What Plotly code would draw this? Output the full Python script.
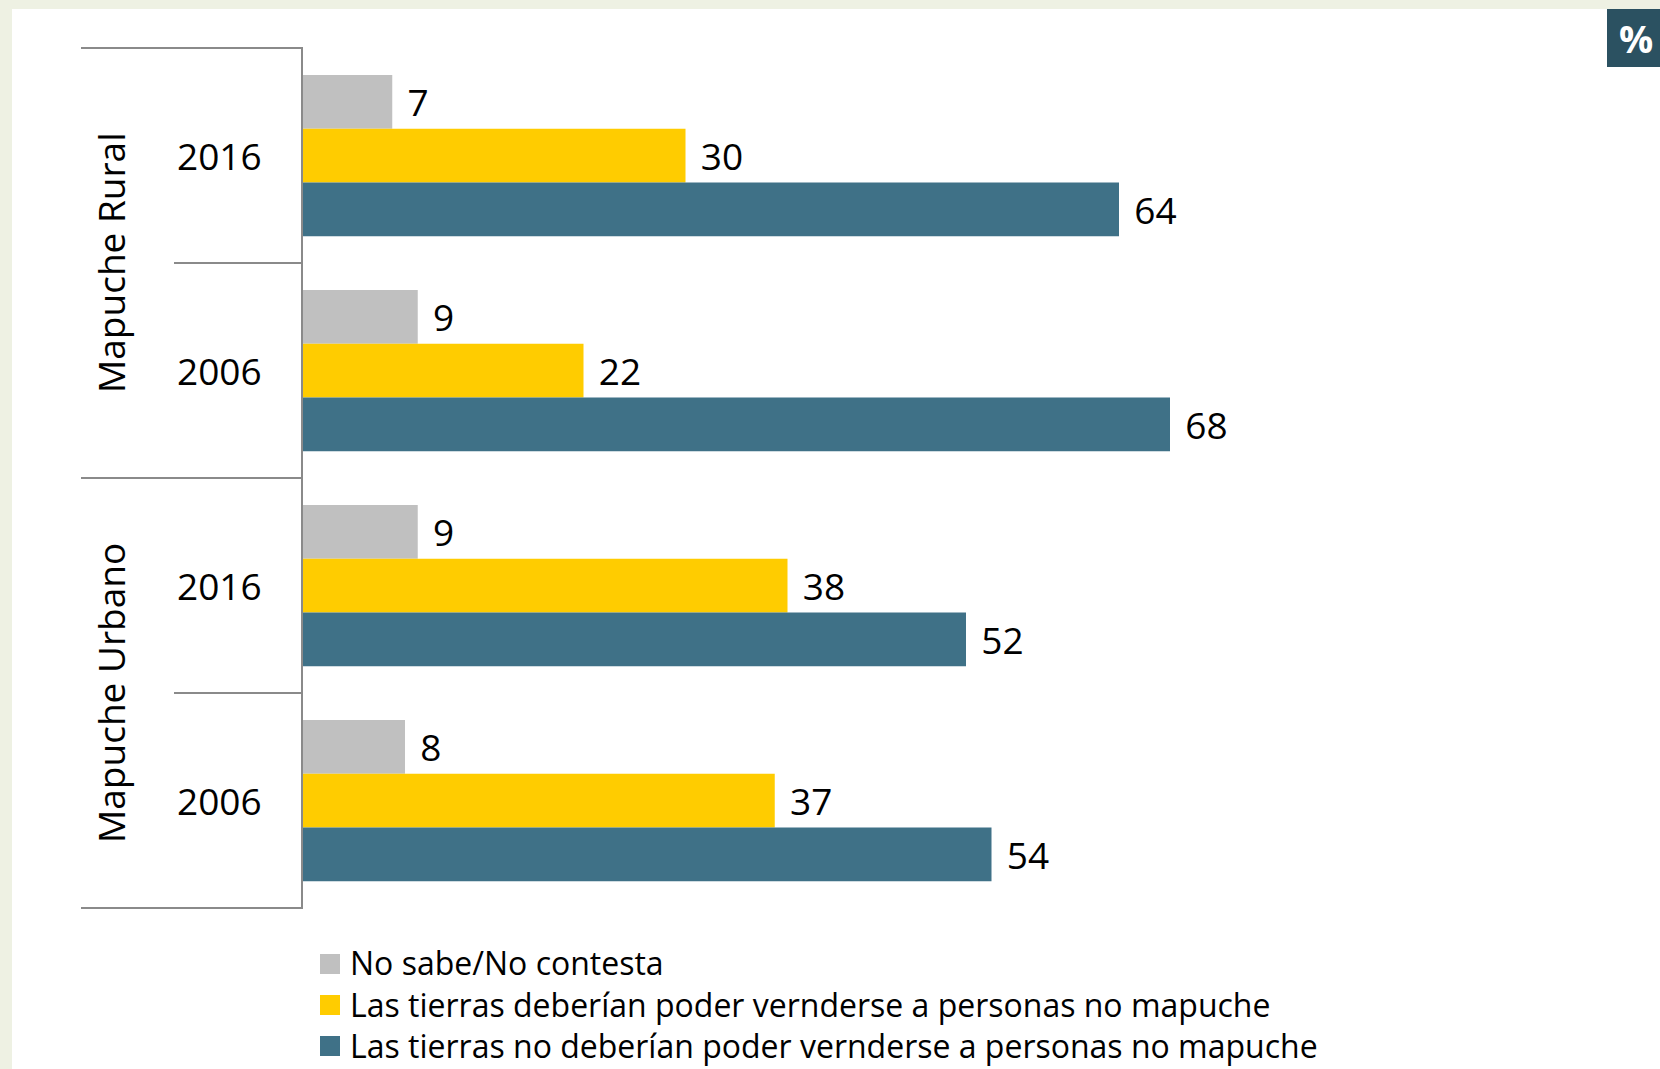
import plotly.graph_objects as go

# ---------------- data ----------------
groups = ["Mapuche Rural", "Mapuche Urbano"]
years = ["2016", "2006", "2016", "2006"]
categories = ["Mapuche Rural 2016", "Mapuche Rural 2006",
              "Mapuche Urbano 2016", "Mapuche Urbano 2006"]
series_names = [
    "No sabe/No contesta",
    "Las tierras deberían poder vernderse a personas no mapuche",
    "Las tierras no deberían poder vernderse a personas no mapuche",
]
no_sabe = [7, 9, 9, 8]
pueden = [30, 22, 38, 37]
no_pueden = [64, 68, 52, 54]
series_values = [no_sabe, pueden, no_pueden]
colors = ["#c0c0c0", "#ffcc00", "#3f7187"]

# ---------------- geometry ----------------
W, H = 1660, 1069
L, R, T, B = 303, 82, 48, 161
PW, PH = W - L - R, H - T - B
FONT = "Open Sans"


def px(x):
    return (x - L) / PW


def py(y):
    return (H - B - y) / PH


n = len(categories)

fig = go.Figure()
for name, vals, col in zip(series_names, series_values, colors):
    fig.add_trace(go.Bar(
        y=categories, x=vals, name=name, orientation="h",
        marker=dict(color=col, line=dict(width=0)),
        texttemplate="\u2009\u2009%{x}", textposition="outside",
        textfont=dict(family=FONT, size=37, color="#000000"),
        constraintext="none", cliponaxis=False, showlegend=False,
    ))

shapes = []
annotations = []

# background frame
shapes.append(dict(type="rect", xref="paper", yref="paper", layer="below",
                   x0=px(12), x1=px(W), y0=py(9), y1=py(H),
                   fillcolor="#ffffff", line=dict(width=0)))

# separators on the left
for k in range(n + 1):
    yk = 1 - k / n
    x_start = 81 if k % 2 == 0 else 174
    shapes.append(dict(type="line", xref="paper", yref="paper",
                       x0=px(x_start), x1=0, y0=yk, y1=yk,
                       line=dict(color="#8a8a8a", width=2)))

# year labels
for i, yr in enumerate(years):
    annotations.append(dict(xref="paper", yref="paper", x=px(219), y=1 - (i + 0.5) / n,
                            text=yr, showarrow=False, xanchor="center", yanchor="middle",
                            font=dict(family=FONT, size=37, color="#000000")))

# group labels
for g, name in enumerate(groups):
    annotations.append(dict(xref="paper", yref="paper", x=px(110), y=1 - (2 * g + 1) / n,
                            text=name, showarrow=False, textangle=-90,
                            xanchor="center", yanchor="middle",
                            font=dict(family=FONT, size=37, color="#000000")))

# legend (manual): colour squares + one multi-line text block
row_y = [964, 1005, 1046]
for col, ry in zip(colors, row_y):
    shapes.append(dict(type="rect", xref="paper", yref="paper",
                       x0=px(320), x1=px(340), y0=py(ry - 10), y1=py(ry + 10),
                       fillcolor=col, line=dict(width=0)))
annotations.append(dict(xref="paper", yref="paper", x=px(348), y=py(1004),
                        text="<br>".join(series_names), showarrow=False,
                        xanchor="left", yanchor="middle", align="left",
                        font=dict(family=FONT, size=32, color="#000000")))

# percent box
shapes.append(dict(type="rect", xref="paper", yref="paper",
                   x0=px(1607), x1=px(W), y0=py(67), y1=py(9),
                   fillcolor="#2b5161", line=dict(width=0)))
annotations.append(dict(xref="paper", yref="paper", x=px(1636), y=py(38),
                        text="<b>%</b>", showarrow=False, xanchor="center", yanchor="middle",
                        font=dict(family=FONT, size=38, color="#ffffff")))

fig.update_layout(
    width=W, height=H, autosize=False,
    margin=dict(l=L, r=R, t=T, b=B, pad=0),
    paper_bgcolor="#eef1e3", plot_bgcolor="#ffffff",
    barmode="group", bargap=0.25, bargroupgap=0,
    showlegend=False,
    xaxis=dict(range=[0, 100], visible=False, showgrid=False, zeroline=False),
    yaxis=dict(range=[n - 0.5, -0.5], showticklabels=False, ticks="",
               showgrid=False, zeroline=False, showline=True,
               linecolor="#8a8a8a", linewidth=2),
    shapes=shapes, annotations=annotations,
    font=dict(family=FONT),
)

fig.write_html("out.html", config={"displayModeBar": False},
               post_script="document.body.style.margin='0';document.body.style.overflow='hidden';")
